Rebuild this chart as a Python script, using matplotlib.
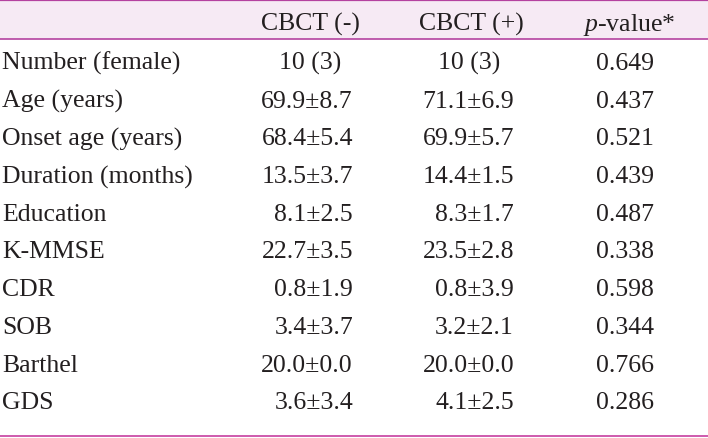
import matplotlib
matplotlib.use("Agg")
from matplotlib import pyplot as plt
from matplotlib.patches import Rectangle

plt.rcParams['font.family'] = ['Liberation Serif', 'DejaVu Serif']
plt.rcParams['mathtext.fontset'] = 'custom'
plt.rcParams['mathtext.it'] = 'Liberation Serif:italic'
plt.rcParams['mathtext.rm'] = 'Liberation Serif'

# table content
headers = ["CBCT (-)", "CBCT (+)", r"$\mathit{p}$-value*"]
labels = ["Number (female)", "Age (years)", "Onset age (years)", "Duration (months)",
          "Education", "K-MMSE", "CDR", "SOB", "Barthel", "GDS"]
cbct_neg = ["10 (3)", "69.9±8.7", "68.4±5.4", "13.5±3.7", "8.1±2.5",
            "22.7±3.5", "0.8±1.9", "3.4±3.7", "20.0±0.0", "3.6±3.4"]
cbct_pos = ["10 (3)", "71.1±6.9", "69.9±5.7", "14.4±1.5", "8.3±1.7",
            "23.5±2.8", "0.8±3.9", "3.2±2.1", "20.0±0.0", "4.1±2.5"]
p_values = ["0.649", "0.437", "0.521", "0.439", "0.487",
            "0.338", "0.598", "0.344", "0.766", "0.286"]

W, H = 708, 439
fs = 18.5
txt_col = "#231f20"
line_col = "#b4429f"

fig = plt.figure(figsize=(W / 100, H / 100), dpi=100)
ax = fig.add_axes([0, 0, 1, 1])
ax.set_xlim(0, W)
ax.set_ylim(H, 0)
ax.axis("off")

# header band
ax.add_patch(Rectangle((0, 1.5), W, 38.5, facecolor="#f6eaf4", edgecolor="none"))
ax.axhline(1.2, color=line_col, lw=1.6)
ax.axhline(40, color=line_col, lw=1.2)
ax.axhline(437, color="#c63e9f", lw=1.2)

# header text
head_x = [310, 471, 629]
for x, h in zip(head_x, headers):
    ax.text(x, 31, h, ha="center", va="baseline", fontsize=fs, color=txt_col)

# body
y0, dy = 70, 37.7
center_x = [310, 469]
right_x = [353, 514]
for i, lab in enumerate(labels):
    y = y0 + i * dy
    ax.text(2, y, lab, ha="left", va="baseline", fontsize=fs, color=txt_col)
    for j, col in enumerate([cbct_neg, cbct_pos]):
        v = col[i]
        if "±" in v:
            ax.text(right_x[j], y, v, ha="right", va="baseline", fontsize=fs, color=txt_col)
        else:
            ax.text(center_x[j], y, v, ha="center", va="baseline", fontsize=fs, color=txt_col)
    ax.text(625, y, p_values[i], ha="center", va="baseline", fontsize=fs, color=txt_col)

fig.savefig("out.png", dpi=100)
